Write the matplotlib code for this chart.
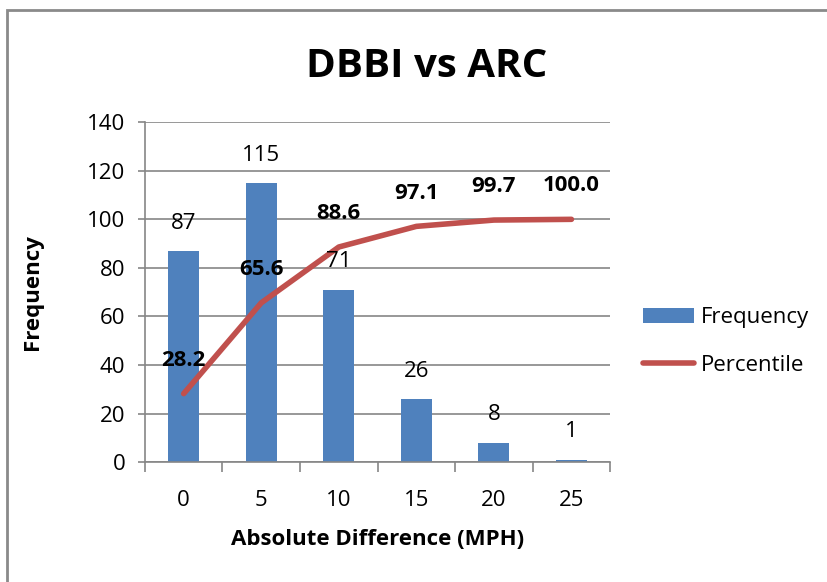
import matplotlib
matplotlib.use("Agg")
import matplotlib.pyplot as plt
from matplotlib.patches import Rectangle
from matplotlib.lines import Line2D
from matplotlib.patches import Patch
import numpy as np

# Speed difference bins and their counts / cumulative percentile
categories = ["0", "5", "10", "15", "20", "25"]
frequency = [87, 115, 71, 26, 8, 1]
percentile = [28.2, 65.6, 88.6, 97.1, 99.7, 100.0]

bar_color = "#4F81BD"
line_color = "#C0504D"
axis_color = "#868686"

plt.rcParams["font.family"] = ["Open Sans", "DejaVu Sans"]

fig = plt.figure(figsize=(8.28, 5.82), dpi=100)
ax = fig.add_axes([0.175, 0.206, 0.562, 0.584])

x = np.arange(len(categories))
ax.bar(x, frequency, width=0.4, color=bar_color, zorder=2)
ax.plot(x, percentile, color=line_color, lw=4, solid_capstyle="round", zorder=3)

for xi, v in zip(x, frequency):
    ax.annotate(str(v), (xi, v), xytext=(0, 20), textcoords="offset points",
                ha="center", va="center", fontsize=16)
for xi, v in zip(x, percentile):
    ax.annotate(f"{v:.1f}", (xi, v), xytext=(0, 24), textcoords="offset points",
                ha="center", va="center", fontsize=16, fontweight="bold")

ax.set_xlim(-0.5, len(categories) - 0.5)
ax.set_ylim(0, 140)
ax.set_yticks(range(0, 141, 20))
ax.yaxis.grid(True, color=axis_color, lw=1.2, zorder=0)
ax.set_axisbelow(True)

ax.set_xticks(x)
ax.set_xticklabels(categories)
ax.set_xticks(np.arange(-0.5, len(categories)), minor=True)
ax.tick_params(axis="x", which="major", length=0, pad=20, labelsize=16)
ax.tick_params(axis="x", which="minor", length=7, width=1.2, color=axis_color)
ax.tick_params(axis="y", length=5, width=1.2, color=axis_color, pad=9, labelsize=16)

for side in ["top", "right"]:
    ax.spines[side].set_visible(False)
for side in ["left", "bottom"]:
    ax.spines[side].set_color(axis_color)
    ax.spines[side].set_linewidth(1.2)

ax.set_xlabel("Absolute Difference (MPH)", fontsize=16, fontweight="bold", labelpad=13)
ax.set_ylabel("Frequency", fontsize=16, fontweight="bold", labelpad=32)
fig.text(0.515, 0.885, "DBBI vs ARC", ha="center", va="center",
         fontsize=29, fontweight="bold")

handles = [Patch(facecolor=bar_color, label="Frequency"),
           Line2D([0], [0], color=line_color, lw=4, solid_capstyle="round", label="Percentile")]
fig.legend(handles=handles, loc="center left", bbox_to_anchor=(0.777, 0.413),
           frameon=False, fontsize=16, handlelength=2.3, handletextpad=0.3,
           labelspacing=1.2, borderpad=0, borderaxespad=0)

# chart area border
fig.patches.append(Rectangle((0.008, -0.2), 1.2, 1.183, transform=fig.transFigure,
                             fill=False, edgecolor="#8a8a8a", lw=2, clip_on=False))

fig.savefig("out.png", dpi=100, facecolor="white")
